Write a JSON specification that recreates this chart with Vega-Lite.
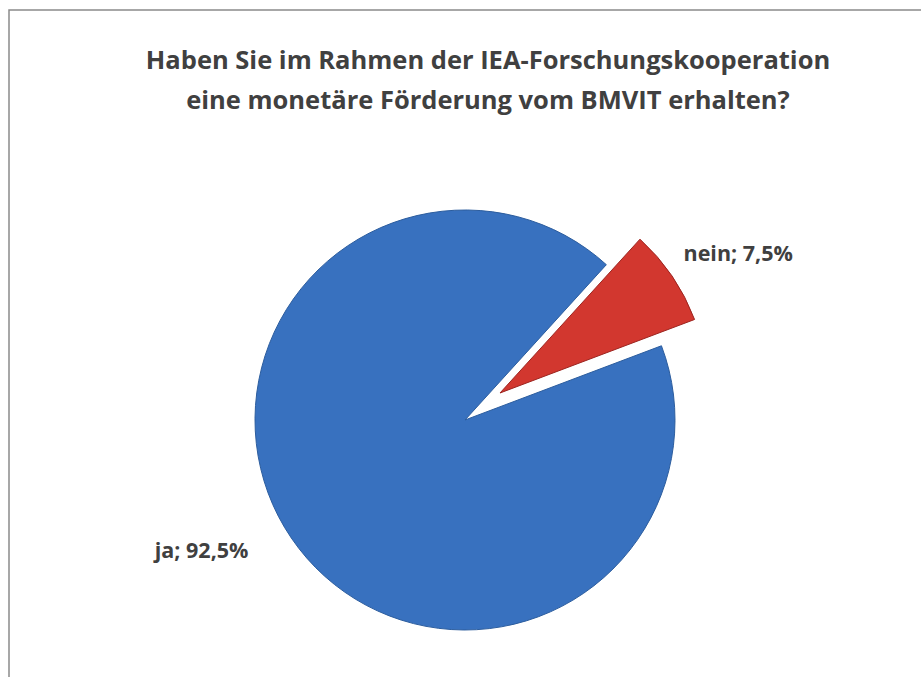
{
  "$schema": "https://vega.github.io/schema/vega-lite/v6.json",
  "autosize": "none",
  "width": 912,
  "height": 820,
  "padding": {"left": 9, "top": 10, "right": 1, "bottom": 0},
  "background": "white",
  "view": {"stroke": "#8a8a8a", "strokeWidth": 1.5, "fill": "white", "strokeDash": [912, 1732, 820, 1]},
  "title": {
    "text": ["Haben Sie im Rahmen der IEA-Forschungskooperation", "eine monetäre Förderung vom BMVIT erhalten?"],
    "anchor": "middle",
    "frame": "group",
    "font": "Open Sans",
    "fontWeight": "bold",
    "fontSize": 25.5,
    "lineHeight": 40,
    "color": "#404040",
    "offset": -104,
    "dx": 23
  },
  "data": {
    "values": [
      {"cat": "ja", "value": 92.5, "label": "ja; 92,5%"},
      {"cat": "nein", "value": 7.5, "label": "nein; 7,5%"}
    ]
  },
  "encoding": {
    "theta": {"field": "value", "type": "quantitative", "stack": true, "scale": {"range": [1.2095, 7.4927]}},
    "color": {"field": "cat", "type": "nominal", "scale": {"domain": ["ja", "nein"], "range": ["#3871bf", "#d2372f"]}, "legend": null}
  },
  "layer": [
    {
      "mark": {"type": "arc", "outerRadius": 210, "stroke": "#2c5d9e", "strokeWidth": 1},
      "encoding": {
        "opacity": {"condition": {"test": "datum.cat === 'ja'", "value": 1}, "value": 0}
      }
    },
    {
      "mark": {"type": "arc", "outerRadius": 208, "xOffset": 35, "yOffset": -27, "stroke": "#9c2520", "strokeWidth": 1},
      "encoding": {
        "opacity": {"condition": {"test": "datum.cat === 'nein'", "value": 1}, "value": 0}
      }
    },
    {
      "mark": {"type": "text", "radius": 294, "dx": 30, "font": "Open Sans", "fontWeight": "bold", "fontSize": 21.5, "fill": "#404040"},
      "encoding": {
        "text": {"condition": {"test": "datum.cat === 'nein'", "field": "label"}, "value": ""},
        "color": {"value": "#404040"}
      }
    },
    {
      "mark": {"type": "text", "radius": 235, "dx": -69, "font": "Open Sans", "fontWeight": "bold", "fontSize": 21.5, "fill": "#404040"},
      "encoding": {
        "text": {"condition": {"test": "datum.cat === 'ja'", "field": "label"}, "value": ""},
        "color": {"value": "#404040"}
      }
    }
  ]
}
